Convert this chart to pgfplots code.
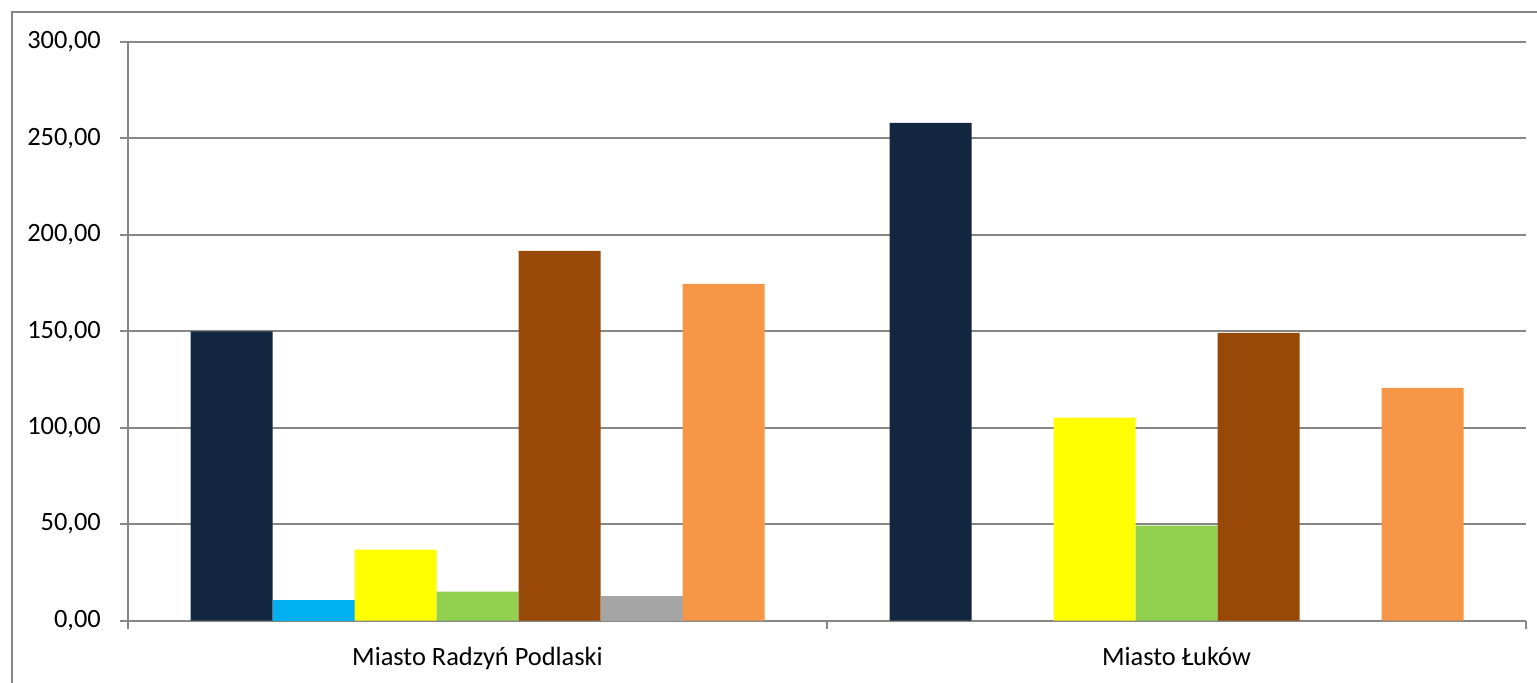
\documentclass[border=0pt]{standalone}
\usepackage{fontspec}
\setmainfont{Carlito}
\usepackage{pgfplots}
\pgfplotsset{compat=1.18}
\definecolor{c1}{RGB}{19,38,64}
\definecolor{c2}{RGB}{0,176,240}
\definecolor{c3}{RGB}{255,255,0}
\definecolor{c4}{RGB}{146,208,80}
\definecolor{c5}{RGB}{152,72,7}
\definecolor{c6}{RGB}{165,165,165}
\definecolor{c7}{RGB}{247,150,70}
\definecolor{gridgray}{RGB}{134,134,134}
\begin{document}
\fontsize{13.2}{15}\selectfont
\begin{tikzpicture}
\useasboundingbox (-64pt,-30.75pt) rectangle (704.5pt,310.25pt);
\begin{axis}[
  at={(0,0)}, anchor=south west,
  scale only axis, width=699pt, height=289.25pt,
  ybar=0pt, bar width=41pt,
  xmin=-0.5, xmax=1.5, ymin=0, ymax=300,
  axis x line*=bottom, axis y line*=left,
  axis line style={draw=gridgray, line width=1pt},
  xtick={-0.5,0.5,1.5},
  xticklabels={},
  x tick style={draw=gridgray, line width=1pt},
  extra x ticks={0,1},
  extra x tick labels={Miasto Radzyń Podlaski, Miasto Łuków},
  extra x tick style={x tick style={draw=none}, grid=none},
  ytick={0,50,...,300},
  y tick style={draw=gridgray, line width=1pt},
  major tick length=4pt, tick align=outside,
  ymajorgrids, grid style={draw=gridgray, line width=1pt},
  /pgf/number format/.cd, fixed, fixed zerofill, precision=2, use comma, 1000 sep={}, assume math mode=true,
  /pgfplots/.cd,
  ticklabel style={font=\fontsize{13.2}{15}\selectfont, text=black},
  xticklabel style={yshift=-4.5pt},
  yticklabel style={xshift=-5pt},
  every axis plot/.append style={draw=none},
]
\addplot[fill=c1] coordinates {(0,150.0) (1,258.0)};
\addplot[fill=c2] coordinates {(0,10.5)};
\addplot[fill=c3] coordinates {(0,36.8) (1,105.2)};
\addplot[fill=c4] coordinates {(0,15.0) (1,49.2)};
\addplot[fill=c5] coordinates {(0,191.7) (1,149.2)};
\addplot[fill=c6] coordinates {(0,12.6)};
\addplot[fill=c7] coordinates {(0,174.6) (1,120.6)};
\end{axis}
\draw[gridgray, line width=1pt] (-58pt,-60pt) rectangle (720pt,304.25pt);
\end{tikzpicture}
\end{document}
